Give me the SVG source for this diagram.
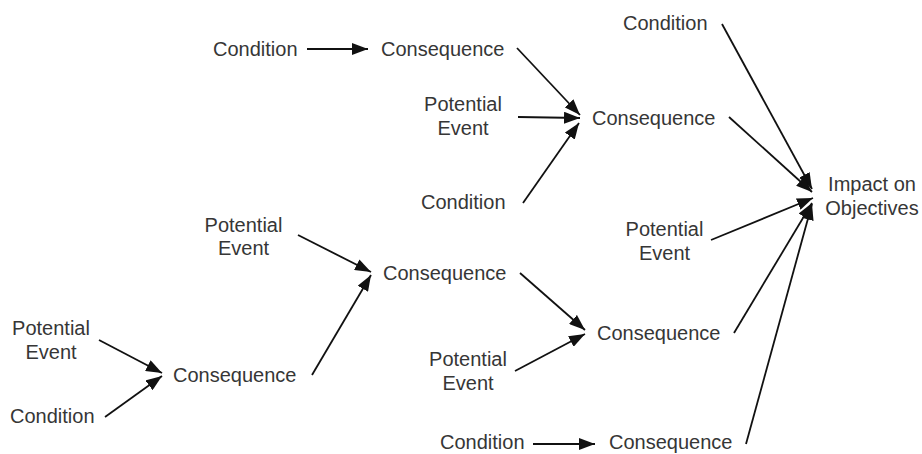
<svg xmlns="http://www.w3.org/2000/svg" width="922" height="454" viewBox="0 0 922 454">
  <style>
    text { font-family: "Liberation Sans", Arial, sans-serif; font-size: 20px; fill: #363636; }
    .c { text-anchor: middle; }
    .edge { stroke: #111; stroke-width: 1.8; fill: none; marker-end: url(#arrow); }
  </style>
  <defs>
    <marker id="arrow" markerUnits="userSpaceOnUse" markerWidth="17" markerHeight="12" refX="16" refY="6" orient="auto">
      <path d="M0,0 L16,6 L0,12 Z" fill="#111"/>
    </marker>
  </defs>
  <rect width="922" height="454" fill="#fff"/>

  <g id="connectors">
    <line class="edge" x1="307" y1="49" x2="368" y2="49"/>
    <line class="edge" x1="517" y1="48" x2="580" y2="115"/>
    <line class="edge" x1="518" y1="117" x2="580" y2="118"/>
    <line class="edge" x1="523" y1="203" x2="579" y2="123"/>
    <line class="edge" x1="722" y1="24" x2="812" y2="189"/>
    <line class="edge" x1="729" y1="117" x2="812" y2="192"/>
    <line class="edge" x1="711" y1="240" x2="813" y2="198"/>
    <line class="edge" x1="734" y1="333" x2="812" y2="203"/>
    <line class="edge" x1="746" y1="444" x2="812" y2="204"/>
    <line class="edge" x1="298" y1="235" x2="371" y2="272"/>
    <line class="edge" x1="312" y1="375" x2="371" y2="275"/>
    <line class="edge" x1="520" y1="273" x2="585" y2="330"/>
    <line class="edge" x1="515" y1="371" x2="585" y2="334"/>
    <line class="edge" x1="99" y1="340" x2="162" y2="373"/>
    <line class="edge" x1="105" y1="417" x2="162" y2="376"/>
    <line class="edge" x1="533" y1="444" x2="595" y2="444"/>
  </g>

  <g id="condition-top"><text x="213" y="56">Condition</text></g>
  <g id="consequence-top"><text x="381" y="56">Consequence</text></g>
  <g id="event-top"><text class="c" x="463" y="110.5">Potential</text><text class="c" x="463" y="134.5">Event</text></g>
  <g id="condition-mid"><text x="421" y="209">Condition</text></g>
  <g id="consequence-upper-right"><text x="592" y="125">Consequence</text></g>
  <g id="condition-top-right"><text x="623" y="30">Condition</text></g>
  <g id="impact"><text class="c" x="872" y="191">Impact on</text><text class="c" x="872" y="215">Objectives</text></g>
  <g id="event-right"><text class="c" x="664.5" y="236">Potential</text><text class="c" x="664.5" y="259.5">Event</text></g>
  <g id="event-left-mid"><text class="c" x="243.5" y="231.5">Potential</text><text class="c" x="243.5" y="255">Event</text></g>
  <g id="consequence-middle"><text x="383" y="280">Consequence</text></g>
  <g id="event-bottom-left"><text class="c" x="51" y="335">Potential</text><text class="c" x="51" y="359">Event</text></g>
  <g id="consequence-bottom-left"><text x="173" y="381.5">Consequence</text></g>
  <g id="condition-bottom-left"><text x="10" y="423">Condition</text></g>
  <g id="consequence-lower-right"><text x="597" y="340">Consequence</text></g>
  <g id="event-lower"><text class="c" x="468" y="366">Potential</text><text class="c" x="468" y="390">Event</text></g>
  <g id="condition-bottom"><text x="440" y="449">Condition</text></g>
  <g id="consequence-bottom"><text x="609" y="449">Consequence</text></g>
</svg>
